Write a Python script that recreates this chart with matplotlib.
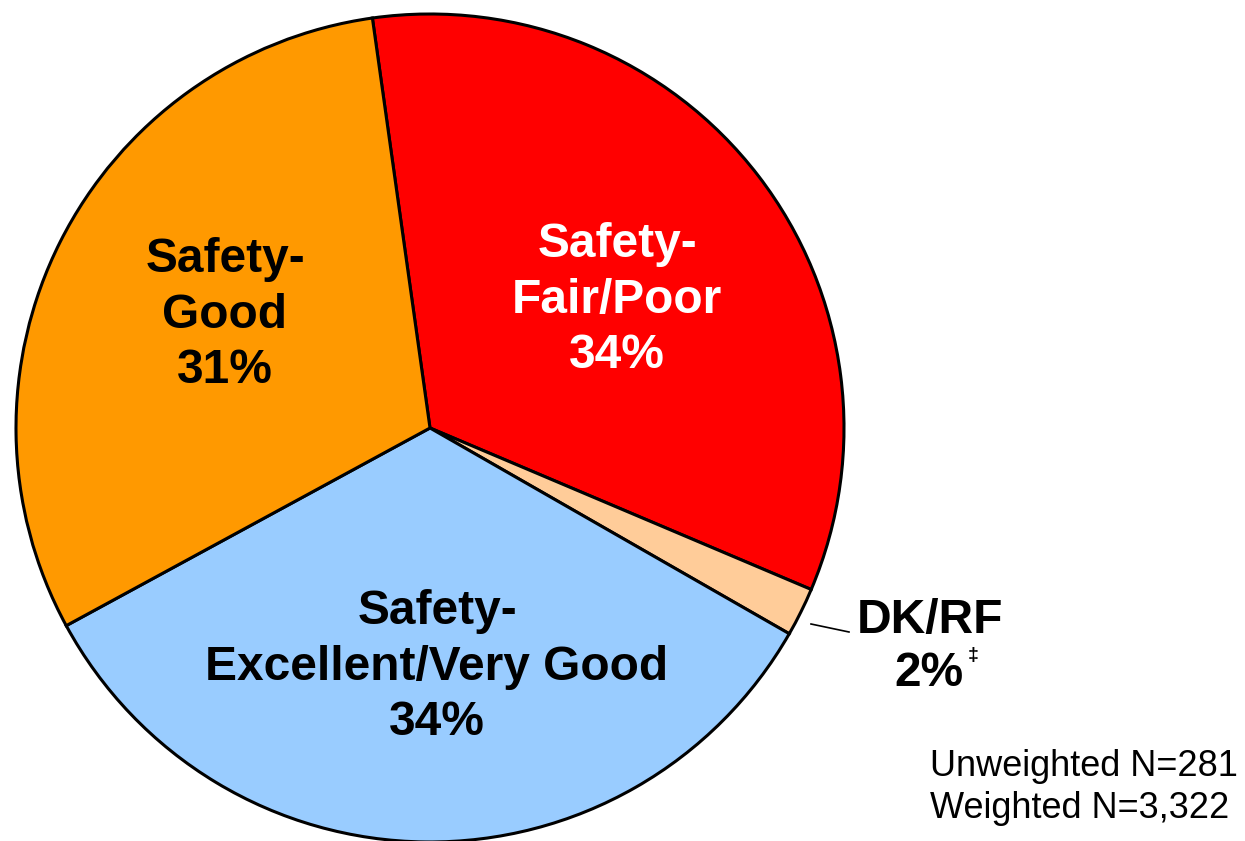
import matplotlib
matplotlib.use("Agg")
import matplotlib.pyplot as plt

plt.rcParams['font.family'] = ['Liberation Sans', 'DejaVu Sans']

categories = ["Safety-\nFair/Poor\n34%", "DK/RF", "Safety-\nExcellent/Very Good\n34%", "Safety-\nGood\n31%"]
values = [33.6, 1.9, 33.8, 30.7]
colors = ["#FF0000", "#FFCC99", "#99CCFF", "#FF9900"]
text_colors = ["white", "black", "black", "black"]
footnote = ["Unweighted N=281", "Weighted N=3,322"]

W, H = 1245, 841
fig = plt.figure(figsize=(W / 100, H / 100), dpi=100)
ax = fig.add_axes([0, 0, 1, 1])
ax.set_xlim(0, W)
ax.set_ylim(0, H)
ax.set_aspect('equal')
ax.axis('off')

cx, cy, R = 430, H - 428, 414
wedges, _ = ax.pie(values, colors=colors, startangle=98, counterclock=False,
                   center=(cx, cy), radius=R, frame=True,
                   wedgeprops=dict(edgecolor='black', linewidth=2.2))
ax.set_xlim(0, W)
ax.set_ylim(0, H)
ax.axis('off')

fs = 34.5
ls = 1.3
# in-slice labels
ax.text(617, H - 300, categories[0], ha='center', va='center', fontsize=fs,
        fontweight='bold', color=text_colors[0], linespacing=ls)
ax.text(437, H - 667, categories[2], ha='center', va='center', fontsize=fs,
        fontweight='bold', color=text_colors[2], linespacing=ls)
ax.text(225, H - 315, categories[3], ha='center', va='center', fontsize=fs,
        fontweight='bold', color=text_colors[3], linespacing=ls)

# DK/RF outside label
ax.text(930, H - 620, categories[1], ha='center', va='center', fontsize=fs,
        fontweight='bold', color='black')
ax.text(929, H - 673, f"{round(values[1])}%", ha='center', va='center',
        fontsize=fs, fontweight='bold', color='black')
ax.text(968, H - 656, "‡", ha='left', va='center', fontsize=14,
        fontweight='bold', color='black')
ax.plot([811, 849], [H - 624, H - 632], color='black', linewidth=1.2)

ax.text(930, H - 767, footnote[0], ha='left', va='center', fontsize=26)
ax.text(930, H - 808, footnote[1], ha='left', va='center', fontsize=26)

fig.savefig("out.png", dpi=100)
